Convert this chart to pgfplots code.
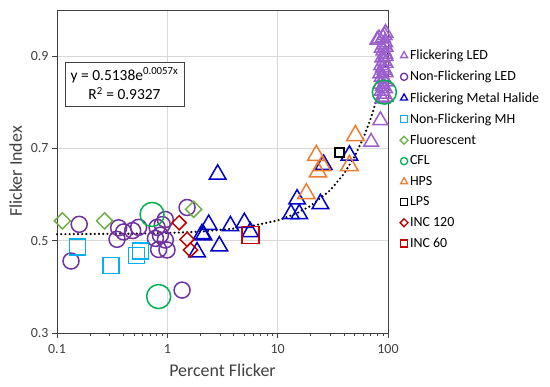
\documentclass[border=0pt]{standalone}
\usepackage{pgfplots}
\pgfplotsset{compat=1.18}
\usepackage{fontspec}
\setmainfont{Carlito}
\definecolor{fled}{RGB}{155,95,205}
\definecolor{nfled}{RGB}{112,48,160}
\definecolor{fmh}{RGB}{0,0,204}
\definecolor{nfmh}{RGB}{0,176,240}
\definecolor{fluor}{RGB}{112,173,71}
\definecolor{cfl}{RGB}{0,176,80}
\definecolor{hps}{RGB}{237,125,49}
\definecolor{inca}{RGB}{192,0,0}
\definecolor{incb}{RGB}{204,0,0}
\definecolor{gridc}{RGB}{217,217,217}
\definecolor{axc}{RGB}{64,64,64}
\pgfplotsset{mylegend/.style={legend image code/.code={\draw[##1,mark size=#1,line width=1.3bp] plot coordinates {(4bp,0bp)};}}}
\begin{document}
\begin{tikzpicture}
\begin{axis}[
  name=ax,
  scale only axis, width=331bp, height=323bp,
  xmode=log, xmin=0.1, xmax=100, ymin=0.3, ymax=1.0,
  xtick={0.1,1,10,100}, xticklabels={0.1,1,10,100},
  minor xtick={},
  ytick={0.3,0.5,0.7,0.9}, yticklabels={0.3,0.5,0.7,0.9},
  xmajorgrids, ymajorgrids, grid style={draw=gridc, line width=0.8bp},
  axis line style={draw=axc, line width=0.9bp},
  tick style={draw=axc, line width=0.9bp},
  tick align=outside, major tick length=5bp,
  xtick pos=bottom, ytick pos=left,
  tick label style={font=\fontsize{14}{15}\selectfont, text=axc},
  xticklabel style={yshift=-3bp},
  xlabel={Percent Flicker}, ylabel={Flicker Index},
  label style={font=\fontsize{18}{20}\selectfont, text=axc},
  xlabel style={yshift=-4bp},
  ylabel style={yshift=2bp},
  legend style={at={(1.027,0.889)}, anchor=north west, draw=none, fill=none,
    font=\fontsize{14}{15}\selectfont, row sep=6.0bp, text=black},
  legend cell align=left,
  clip=false,
]
\addplot[only marks, mark=triangle, mark size=8.5bp, draw=fled, line width=1.5bp, mylegend=4bp] coordinates {
(95,0.950)(93,0.945)(90,0.940)(80,0.935)(83,0.938)(94,0.930)(92,0.925)(95,0.920)
(88,0.918)(91,0.912)(94,0.905)(95,0.900)(89,0.897)(92,0.890)(95,0.885)(87,0.880)
(90,0.875)(93,0.870)(95,0.865)(85,0.862)(88,0.855)(92,0.850)(95,0.845)(86,0.840)
(90,0.835)(94,0.830)(88,0.825)(92,0.818)(95,0.812)(89,0.808)(85.3,0.761)(70.3,0.714)};
\addlegendentry{Flickering LED}
\addplot[only marks, mark=o, mark size=8bp, draw=nfled, line width=1.5bp, mylegend=3.6bp] coordinates {
(0.159,0.5355)(0.134,0.456)(0.362,0.528)(0.350,0.503)(0.485,0.522)(0.549,0.529)
(0.402,0.519)(0.807,0.529)(0.959,0.546)(0.865,0.512)(0.959,0.5015)(0.834,0.481)
(0.993,0.480)(1.36,0.393)(1.51,0.572)(0.90,0.535)(0.78,0.505)};
\addlegendentry{Non-Flickering LED}
\addplot[only marks, mark=triangle, mark size=9.5bp, draw=fmh, line width=1.5bp, mylegend=4bp] coordinates {
(2.86,0.644)(2.37,0.535)(2.06,0.515)(2.13,0.512)(3.73,0.532)(4.99,0.539)(5.65,0.519)
(2.96,0.4885)(1.86,0.4755)(15.0,0.590)(13.2,0.558)(15.7,0.558)(24.4,0.580)(44.7,0.685)(26.1,0.665)};
\addlegendentry{Flickering Metal Halide}
\addplot[only marks, mark=square, mark size=8bp, draw=nfmh, line width=1.5bp, mylegend=3.5bp] coordinates {
(0.154,0.486)(0.309,0.446)(0.523,0.4675)(0.569,0.478)};
\addlegendentry{Non-Flickering MH}
\addplot[only marks, mark=square, mark size=5.7bp, mark options={rotate=45}, draw=fluor, line width=1.5bp, mylegend=2.8bp] coordinates {
(0.112,0.543)(0.270,0.543)(1.73,0.568)};
\addlegendentry{Fluorescent}
\addplot[only marks, mark=o, mark size=12bp, draw=cfl, line width=1.5bp, mylegend=3.6bp] coordinates {
(0.727,0.557)(0.834,0.379)(92.7,0.822)};
\addlegendentry{CFL}
\addplot[only marks, mark=triangle, mark size=10bp, draw=hps, line width=1.5bp, mylegend=4bp] coordinates {
(22.4,0.685)(25.3,0.663)(23.2,0.649)(18.2,0.602)(50.6,0.728)(44.7,0.663)};
\addlegendentry{HPS}
\addplot[only marks, mark=square, mark size=4.5bp, draw=black, line width=1.5bp, mylegend=3.5bp] coordinates {
(36.5,0.691)};
\addlegendentry{LPS}
\addplot[only marks, mark=square, mark size=5bp, mark options={rotate=45}, draw=inca, line width=1.5bp, mylegend=2.8bp] coordinates {
(1.28,0.539)(1.51,0.503)(1.62,0.480)};
\addlegendentry{INC 120}
\addplot[only marks, mark=square, mark size=8.5bp, draw=incb, line width=1.5bp, mylegend=3.5bp] coordinates {
(5.65,0.512)};
\addlegendentry{INC 60}
\addplot[black, line width=2.4bp, line cap=round, dash pattern=on 0bp off 4.2bp, forget plot] coordinates {
(0.1,0.5141)(0.5,0.5153)(1,0.5167)(2,0.5197)(5,0.5286)(10,0.5440)(15,0.5597)(20,0.5759)
(30,0.6096)(40,0.6454)(50,0.6833)(60,0.7233)(70,0.7657)(80,0.8107)(90,0.8582)(100,0.9085)};
\node[draw=axc, line width=0.9bp, fill=white, align=center, font=\fontsize{15.5}{20}\selectfont,
  minimum width=119bp, minimum height=44bp, inner sep=1bp] at (rel axis cs:0.204,0.771)
  {y = 0.5138e\textsuperscript{0.0057x}\\R\textsuperscript{2} = 0.9327};
\end{axis}
\path (ax.south west) ++(-57bp,-54bp) rectangle ++(550bp,387bp);
\end{tikzpicture}
\end{document}
